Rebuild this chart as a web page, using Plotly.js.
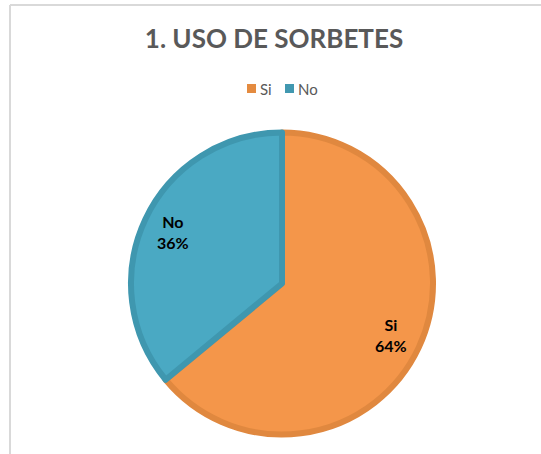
<!DOCTYPE html>
<html><head><meta charset="utf-8">
<script src="https://cdn.plot.ly/plotly-3.0.1.min.js"></script>
<style>html,body{margin:0;padding:0;background:#fff}#chart{width:541px;height:454px}</style>
</head><body><div id="chart"></div>
<script>
const categories = ["Si", "No"];
const percentages = [64, 36];
const fillColors = ["#F4964A", "#4AA9C3"];
const edgeColors = ["#E0883F", "#3F97AF"];
const legendColors = ["#E48B40", "#4198B0"];
const chartTitle = "1. USO DE SORBETES";

const W = 541, H = 454;
const cx = 282, cy = 283.5, r = 151;

const trace = {
  type: "pie",
  labels: categories,
  values: percentages,
  sort: false,
  direction: "clockwise",
  rotation: 0,
  marker: {colors: fillColors, line: {color: edgeColors, width: 6}},
  textinfo: "none",
  hoverinfo: "none",
  showlegend: false,
  domain: {x: [(cx - r) / W, (cx + r) / W], y: [1 - (cy + r) / H, 1 - (cy - r) / H]}
};

// data labels placed at the middle angle of each slice (computed from the values)
const total = percentages.reduce((a, b) => a + b, 0);
const annotations = [];
let cum = 0;
percentages.forEach((v, i) => {
  const mid = (cum + v / 2) / total * 2 * Math.PI;
  cum += v;
  const k = 0.8 * r;
  const px = cx + k * Math.sin(mid), py = cy - k * Math.cos(mid);
  annotations.push({
    xref: "paper", yref: "paper", x: px / W, y: 1 - py / H, showarrow: false,
    xanchor: "center", yanchor: "middle",
    text: "<b>" + categories[i] + "</b><br><b>" + Math.round(v / total * 100) + "%</b>",
    font: {family: "Lato, sans-serif", size: 16, color: "#000000"}
  });
});

// compact Excel-style legend
const shapes = [
  {type: "line", xref: "paper", yref: "paper", x0: 10 / W, x1: 1, y0: 1 - 5 / H, y1: 1 - 5 / H, line: {color: "#D9D9D9", width: 2}},
  {type: "line", xref: "paper", yref: "paper", x0: 10 / W, x1: 10 / W, y0: 0, y1: 1 - 5 / H, line: {color: "#D9D9D9", width: 2}}
];
const legendX = [247, 285];
const legendY = 88.5;
categories.forEach((c, i) => {
  const x0 = legendX[i];
  shapes.push({type: "rect", xref: "paper", yref: "paper", x0: x0 / W, x1: (x0 + 9) / W,
               y0: 1 - (legendY + 4.5) / H, y1: 1 - (legendY - 4.5) / H,
               fillcolor: legendColors[i], line: {width: 0}});
  annotations.push({xref: "paper", yref: "paper", x: (x0 + 11) / W, y: 1 - (legendY + 0.5) / H,
                    xanchor: "left", yanchor: "middle", showarrow: false, text: c,
                    font: {family: "Lato, sans-serif", size: 15, color: "#595959"}});
});

const layout = {
  width: W, height: H,
  margin: {l: 0, r: 0, t: 0, b: 0},
  paper_bgcolor: "#ffffff",
  title: {text: "<b>" + chartTitle + "</b>", font: {family: "Lato, sans-serif", size: 26, color: "#595959"},
          x: 274 / W, xanchor: "center", y: 1 - 39 / H, yanchor: "middle"},
  showlegend: false,
  annotations: annotations,
  shapes: shapes
};

Plotly.newPlot("chart", [trace], layout, {displayModeBar: false, staticPlot: true});
</script></body></html>
